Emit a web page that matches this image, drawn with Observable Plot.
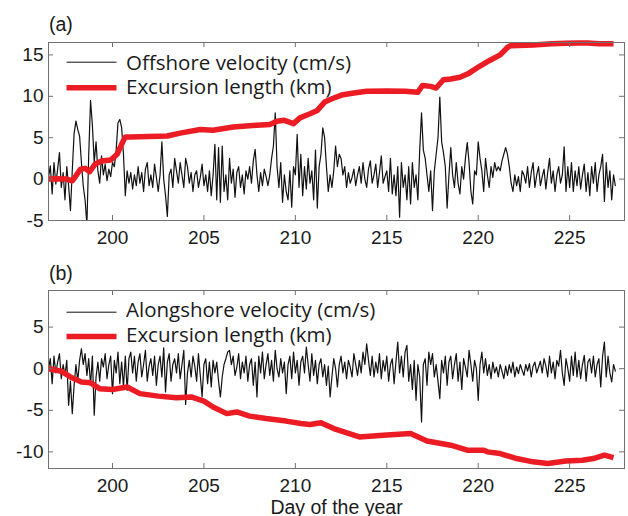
<!DOCTYPE html>
<html><head><meta charset="utf-8">
<script src="https://cdn.jsdelivr.net/npm/d3@7"></script>
<script src="https://cdn.jsdelivr.net/npm/@observablehq/plot@0.6"></script>
<style>
body{margin:0;background:#fff;}
#chart{position:relative;width:628px;height:516px;overflow:hidden;background:#fff;}
#chart svg{display:block;}
</style></head><body><div id="chart"></div>
<script>
// time axis of the velocity records (day of year), sampled every 0.1 day
const startDay = 196.5, dayStep = 0.1;

// Panel (a): offshore velocity (cm/s), one row per day starting at 196.5
const offshoreVelocity = [
  0.2, 1.6, -1.8, 2.0, -0.6, 1.2, 3.2, -1.0, 0.8, -2.5,
  1.5, -0.8, -3.8, 1.0, 5.5, 7.0, 6.0, 5.2, 2.0, -0.8,
  -2.5, -5.5, 3.0, 9.5, 6.5, 2.0, 4.5, 1.0, -0.5, 2.8,
  0.5, 1.8, -0.2, 1.2, 0.3, 2.0, 1.5, 3.5, 6.8, 7.2,
  6.2, 3.0, -2.0, 1.0, -0.5, 0.8, -1.2, 0.5, -0.8, 1.5,
  -0.5, 0.8, -1.5, 1.2, 2.0, -0.8, 0.5, -1.0, 1.8, 0.2,
  -1.5, 0.5, 4.5, 0.0, -2.0, -4.5, 0.5, 1.2, -1.0, 2.5,
  1.0, -0.5, 2.0, 0.5, -1.0, 2.5, 1.5, -0.5, 0.8, -1.5,
  0.5, 1.0, -1.0, 0.2, 1.8, -0.8, 0.5, -1.5, 1.0, -2.0,
  0.5, 4.2, -2.5, 3.8, -2.8, 4.0, -1.5, 0.5, -2.5, 2.5,
  -0.5, 1.2, -2.2, 0.8, 1.5, -1.0, 0.5, -1.8, 1.0, 0.0,
  1.5, -0.5, 2.2, 3.6, 0.5, -1.5, 0.8, -0.8, 1.2, 0.3,
  -0.8, 0.5, 2.5, 4.0, 8.0, 1.5, -1.0, 2.0, -2.8, 0.5,
  -1.5, -2.5, 1.0, -3.4, 1.5, 0.5, 5.4, -1.0, 3.0, -2.0,
  1.5, -1.2, 2.5, -0.5, 1.0, -2.5, 3.5, -3.5, 1.5, 3.0,
  6.2, 5.0, 1.5, -1.5, 0.5, -1.0, 1.0, 4.0, 1.5, 3.0,
  2.5, 0.5, 1.5, -1.0, 0.8, -0.5, 0.2, 1.2, -0.8, 0.5,
  1.5, -0.5, 2.0, 0.0, -1.0, 1.2, 2.2, -0.5, 0.5, 1.8,
  -1.0, 0.8, 2.8, -0.5, 0.3, 1.0, -1.5, 2.5, -1.8, 0.5,
  -2.0, 1.5, -4.6, 2.0, -1.0, 0.5, -2.5, 1.5, -3.0, 2.0,
  -1.0, 0.5, -2.5, 3.5, 8.0, 3.5, 2.5, 0.5, -1.5, 1.0,
  -3.8, 1.0, 3.0, 5.0, 9.9, 4.5, 3.2, 1.5, -3.5, 0.5,
  3.8, 0.5, -1.0, 2.0, -0.5, -1.8, 1.5, 0.0, 2.5, 4.4,
  2.0, -1.5, -3.0, 1.0, 0.5, 4.5, 2.5, 1.0, -1.5, 2.5,
  0.5, -1.0, 1.5, 0.2, 2.0, 1.0, 1.5, 1.0, 2.2, 3.0,
  3.8, 3.0, 1.5, -0.5, -1.5, 0.5, -0.8, 0.3, -1.5, 1.0,
  0.5, -0.5, 1.5, -1.0, 0.8, 2.0, -1.0, 0.5, 1.5, -0.8,
  0.3, 1.2, -1.2, 0.8, 2.5, -0.5, 1.0, -1.5, 0.5, 1.5,
  -0.5, 0.5, 3.9, -1.5, 1.5, -1.0, 2.0, -1.5, 1.0, -0.8,
  1.5, -1.2, 0.5, 1.8, -1.5, 0.8, -2.0, 1.5, -0.5, 2.0,
  -1.5, 0.5, 1.5, 3.0, -2.7, 2.0, -1.0, 1.0, -2.5, 0.5,
  -0.8
];

// Panel (a): offshore excursion length (km), [day, km]
const offshoreExcursion = [
  [196.5, 0.0], [197.0, 0.05], [197.5, 0.0], [197.8, -0.2], [198.0, 0.4], [198.25, 1.2],
  [198.5, 1.3], [198.75, 0.9], [199.05, 1.8], [199.4, 2.2], [199.9, 2.3], [200.25, 3.0],
  [200.5, 4.2], [200.7, 5.1], [201.0, 5.1], [202.0, 5.15], [203.0, 5.2], [203.7, 5.55],
  [204.8, 6.0], [205.5, 5.9], [206.6, 6.3], [207.9, 6.5], [208.6, 6.6], [209.0, 7.0],
  [209.4, 7.1], [209.9, 6.7], [210.25, 7.4], [210.8, 7.9], [211.2, 8.3], [211.6, 9.3],
  [212.0, 9.7], [212.6, 10.2], [213.2, 10.4], [213.9, 10.6], [215.0, 10.65], [216.0, 10.6],
  [216.7, 10.5], [216.95, 11.3], [217.4, 11.2], [217.7, 11.0], [218.1, 12.0], [218.5, 12.1],
  [219.0, 12.3], [219.5, 12.8], [220.05, 13.6], [220.6, 14.3], [221.2, 15.0], [221.6, 15.9],
  [221.75, 16.1], [222.2, 16.15], [223.0, 16.2], [224.0, 16.35], [224.8, 16.4], [225.5, 16.45],
  [226.0, 16.45], [226.6, 16.35], [227.4, 16.35]
];

// Panel (b): alongshore velocity (cm/s), one row per day starting at 196.5
const alongshoreVelocity = [
  0.0, 1.2, -1.8, 1.5, -0.5, 0.8, 1.8, -1.2, 0.5, -0.8,
  1.0, -4.4, -1.5, -5.4, -2.0, 0.5, -1.5, 1.0, 2.4, 0.5,
  1.8, -0.8, 1.2, -2.0, 1.5, -5.6, -1.0, 0.8, -1.5, 1.2,
  0.2, 1.8, -1.2, 0.5, 1.5, -3.0, 1.0, -0.5, 2.0, -1.8,
  0.8, -2.2, 1.5, -2.6, 1.2, 2.0, -0.5, 1.5, -1.5, 0.8,
  1.8, -1.0, 0.5, 2.2, -1.5, 0.3, 1.2, -0.8, 1.5, -2.0,
  0.5, 1.5, -1.0, 2.5, -2.8, 0.8, 1.8, -1.5, 0.5, 1.2,
  -0.5, 1.8, -1.2, 0.5, 2.2, -4.3, -0.5, 1.0, -1.0, 1.5,
  0.3, -1.5, 1.8, -0.8, -3.4, 0.5, 1.2, -1.8, 0.8, -2.2,
  1.0, -0.5, 0.8, -1.5, -3.4, -1.0, 0.5, 1.2, 2.0, 2.2,
  0.5, 1.5, -0.8, 0.2, 1.8, -1.2, 0.8, -0.5, 1.5, -1.5,
  0.5, 1.2, -2.0, 0.8, -3.4, 1.5, -0.5, 2.0, -1.2, 0.5,
  1.8, -0.8, 1.0, -1.5, 2.2, 0.0, -1.0, 1.2, -0.5, 0.8,
  -3.0, 0.5, 1.5, -1.2, 2.0, -0.5, 1.0, -2.0, 0.8, 1.5,
  -0.5, 2.6, 0.5, -1.5, 1.8, -0.8, 1.0, -1.8, 0.5, 1.2,
  -1.0, 0.5, -2.0, 0.3, -3.4, -1.0, 1.2, 0.0, -2.2, 0.5,
  1.5, -0.5, 0.8, -1.2, 1.0, 0.2, -1.0, 1.8, 0.5, -0.8,
  1.0, -0.5, 2.0, 0.5, 3.0, 1.0, -0.8, 1.5, -1.0, 0.8,
  -0.5, 1.8, -1.2, 1.0, -0.3, 1.5, -1.5, 0.5, 1.2, -1.8,
  0.8, 3.2, -0.5, 1.5, -1.0, 2.0, 2.8, -1.5, 0.5, -2.5,
  1.0, -3.8, 0.5, -1.0, -6.4, 0.5, 1.2, -2.0, 2.0, 0.5,
  1.8, -1.0, 0.5, -1.5, -3.6, 1.0, -0.5, 1.5, -2.0, 0.8,
  1.5, -1.2, 0.5, 1.8, -1.5, 0.8, -2.5, 1.2, 0.2, -1.0,
  2.2, 0.5, -1.5, 1.0, 0.0, -3.8, 0.5, 2.0, -0.5, 1.2,
  -0.8, 0.5, -1.2, 0.8, -0.5, 0.2, -1.0, 0.5, -0.3, -1.2,
  0.3, -0.8, 0.5, -0.5, 0.8, -1.0, 0.2, -0.6, 0.5, -0.2,
  -0.8, 0.5, -0.3, 0.6, -1.0, 0.3, 0.8, -0.5, 0.2, 0.9,
  -0.5, 1.2, 0.3, -1.0, 1.5, -0.5, 0.8, -1.2, 1.0, 0.3,
  2.2, -0.5, -2.0, 1.2, 0.0, -1.5, 1.5, -0.8, 2.0, -1.0,
  1.0, -1.2, 0.5, 1.6, -1.5, 0.8, 1.2, -0.5, 1.5, -1.0,
  0.5, 1.2, -2.2, 1.5, 3.2, -1.0, 1.5, -0.5, -1.6, 0.5,
  -0.3
];

// Panel (b): alongshore excursion length (km), [day, km]
const alongshoreExcursion = [
  [196.5, 0.0], [197.2, -0.3], [197.7, -1.0], [198.3, -1.6], [198.8, -1.7], [199.3, -2.4],
  [200.0, -2.5], [200.8, -2.2], [201.5, -3.0], [202.5, -3.3], [203.5, -3.5], [204.3, -3.4],
  [205.0, -3.9], [205.5, -4.6], [206.25, -5.4], [206.8, -5.2], [207.5, -5.7], [208.4, -6.0],
  [209.5, -6.3], [210.3, -6.6], [210.8, -6.7], [211.4, -6.5], [212.1, -7.2], [213.5, -8.2],
  [214.8, -8.0], [216.3, -7.8], [217.2, -8.7], [218.5, -9.2], [219.4, -9.8], [220.3, -9.8],
  [220.5, -10.0], [221.2, -10.2], [222.1, -10.8], [223.0, -11.2], [223.8, -11.4], [224.8, -11.1],
  [225.7, -11.0], [226.3, -10.8], [226.9, -10.4], [227.4, -10.7]
];

const xTicks = [200, 205, 210, 215, 220, 225];
const yTicksA = [-5, 0, 5, 10, 15];
const yTicksB = [-10, -5, 0, 5];
const xDomain = [196.5, 228];
const yDomainA = [-5, 16.5];
const yDomainB = [-12, 9.4];
const legendA = ["Offshore velocity (cm/s)", "Excursion length (km)"];
const legendB = ["Alongshore velocity (cm/s)", "Excursion length (km)"];
const tags = ["(a)", "(b)"];
const xLabel = "Day of the year";

const red = "#ec1c24";
const axisGray = "#707070";
const ink = "#1a1a1a";
const legendFont = "Open Sans";
const labelFont = "Liberation Sans, Arial, sans-serif";

function panel({height, marginTop, marginBottom, yDomain, yTicks, velocity, excursion, legend, tag, tagDy, legendDy, sampleDy, label}) {
  const width = 628, marginLeft = 48, marginRight = 4;
  const innerW = width - marginLeft - marginRight;
  const innerH = height - marginTop - marginBottom;
  const series = velocity.map((v, i) => ({day: startDay + i * dayStep, v}));
  const exc = excursion.map(([day, v]) => ({day, v}));
  const tk = {stroke: axisGray, strokeWidth: 1};
  const marks = [
    Plot.line(series, {x: "day", y: "v", stroke: "#111", strokeWidth: 1.2, clip: true}),
    Plot.line(exc, {x: "day", y: "v", stroke: red, strokeWidth: 5.5, strokeLinejoin: "round", strokeLinecap: "butt"}),
    Plot.tickX(xTicks, {x: d => d, insetTop: innerH - 5, ...tk}),
    Plot.tickX(xTicks, {x: d => d, insetBottom: innerH - 5, ...tk}),
    Plot.tickY(yTicks, {y: d => d, insetRight: innerW - 5, ...tk}),
    Plot.tickY(yTicks, {y: d => d, insetLeft: innerW - 5, ...tk}),
    Plot.frame({stroke: axisGray}),
    Plot.axisX(xTicks, {tickSize: 0, tickPadding: 10, label: null, fill: ink, fontSize: 19, tickFormat: d => String(d)}),
    Plot.axisY(yTicks, {tickSize: 0, tickPadding: 5, label: null, fill: ink, fontSize: 19, tickFormat: d => String(d)}),
    // legend samples
    Plot.ruleY([yDomain[1]], {dy: sampleDy[0], insetLeft: 18.5, insetRight: innerW - 68.5, stroke: "#111", strokeWidth: 1}),
    Plot.ruleY([yDomain[1]], {dy: sampleDy[1], insetLeft: 18.5, insetRight: innerW - 68.5, stroke: red, strokeWidth: 5.5}),
    Plot.text([legend[0]], {text: d => d, frameAnchor: "top-left", lineAnchor: "middle", dx: 77.5, dy: legendDy[0], textAnchor: "start", fontFamily: legendFont, fontSize: 20.5, fill: ink}),
    Plot.text([legend[1]], {text: d => d, frameAnchor: "top-left", lineAnchor: "middle", dx: 77.5, dy: legendDy[1], textAnchor: "start", fontFamily: legendFont, fontSize: 20.5, fill: ink}),
    Plot.text([tag], {text: d => d, frameAnchor: "top-left", lineAnchor: "middle", dx: 0.5, dy: tagDy, textAnchor: "start", fill: ink, fontFamily: labelFont, fontSize: 19.5})
  ];
  if (label) marks.push(Plot.text([label], {text: d => d, frameAnchor: "bottom", lineAnchor: "middle", dy: 39, fill: ink, fontFamily: labelFont, fontSize: 19.5}));
  return Plot.plot({
    width, height, marginTop, marginBottom, marginLeft, marginRight,
    x: {domain: xDomain},
    y: {domain: yDomain},
    style: {fontFamily: labelFont, fontSize: "19px", background: "transparent", overflow: "visible"},
    marks
  });
}

const chart = document.getElementById("chart");
const pa = panel({height: 250, marginTop: 42, marginBottom: 30, yDomain: yDomainA, yTicks: yTicksA,
  velocity: offshoreVelocity, excursion: offshoreExcursion, legend: legendA, tag: tags[0], tagDy: -18,
  legendDy: [21.2, 45.4], sampleDy: [19.7, 45.3]});
const pb = panel({height: 266, marginTop: 40, marginBottom: 48, yDomain: yDomainB, yTicks: yTicksB,
  velocity: alongshoreVelocity, excursion: alongshoreExcursion, legend: legendB, tag: tags[1], tagDy: -16.8,
  legendDy: [20.4, 44.7], sampleDy: [21.7, 46], label: xLabel});
chart.appendChild(pa);
chart.appendChild(pb);
</script>
</body></html>
